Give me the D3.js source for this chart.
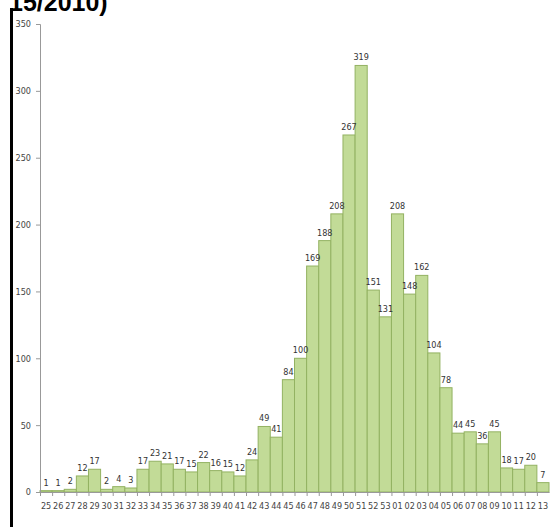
<!DOCTYPE html>
<html>
<head>
<meta charset="utf-8">
<script src="https://cdn.jsdelivr.net/npm/d3@7"></script>
<style>
  body { margin: 0; background: #fff; }
  svg { display: block; }
</style>
</head>
<body>
<div id="chart"></div>
<script>
// weeks 25/2009 .. 13/2010
var weeks = ["25","26","27","28","29","30","31","32","33","34","35","36","37","38","39","40","41","42","43","44",
             "45","46","47","48","49","50","51","52","53","01","02","03","04","05","06","07","08","09","10","11","12","13"];
var cases = [1,1,2,12,17,2,4,3,17,23,21,17,15,22,16,15,12,24,49,41,
             84,100,169,188,208,267,319,151,131,208,148,162,104,78,44,45,36,45,18,17,20,7];
var yTicks = [0,50,100,150,200,250,300,350];

var W = 552, H = 527;
var margin = {top: 24, right: 3, bottom: 35, left: 40},
    width = W - margin.left - margin.right,
    height = H - margin.top - margin.bottom;

var svg = d3.select("#chart")
  .append("svg")
    .attr("width", W)
    .attr("height", H);

// title fragment, cut off at the top like the source
svg.append("text")
  .attr("x", 9)
  .attr("y", 11)
  .attr("font-family", "Liberation Sans, Arial, sans-serif")
  .attr("font-weight", "bold")
  .attr("font-size", "25px")
  .attr("fill", "#000")
  .text("15/2010)");

// black rule on the left
svg.append("line")
  .attr("x1", 11.5).attr("x2", 11.5)
  .attr("y1", 8).attr("y2", H)
  .attr("stroke", "#000")
  .attr("stroke-width", 3);

var g = svg.append("g")
  .attr("transform", "translate(" + margin.left + "," + margin.top + ")");

var x = d3.scaleBand().domain(weeks).range([0, width]).padding(0);
var y = d3.scaleLinear().domain([0, 350]).range([height, 0]);

var font = "Liberation Sans Narrow, DejaVu Sans Condensed, sans-serif";

// bars
g.selectAll(".bar")
  .data(weeks)
  .enter()
  .append("rect")
    .attr("class", "bar")
    .attr("x", function(d) { return x(d); })
    .attr("y", function(d, i) { return y(cases[i]); })
    .attr("width", x.bandwidth())
    .attr("height", function(d, i) { return height - y(cases[i]); })
    .attr("fill", "#c2db97")
    .attr("stroke", "#93b262")
    .attr("stroke-width", 1);

// value labels
g.selectAll(".val")
  .data(weeks)
  .enter()
  .append("text")
    .attr("class", "val")
    .attr("x", function(d) { return x(d) + x.bandwidth() / 2; })
    .attr("y", function(d, i) { return y(cases[i]) - 5; })
    .attr("text-anchor", "middle")
    .attr("font-family", font)
    .attr("font-size", "9px")
    .attr("fill", "#333")
    .text(function(d, i) { return cases[i]; });

// y axis
var yAxis = d3.axisLeft(y).tickValues(yTicks).tickSize(4).tickPadding(5);
g.append("g")
  .call(yAxis)
  .call(function(s) {
    s.select(".domain").attr("stroke", "#999");
    s.selectAll(".tick line").attr("stroke", "#999");
    s.selectAll("text").attr("font-family", font).attr("font-size", "9px").attr("fill", "#444");
  });

// x axis
var xAxis = d3.axisBottom(x).tickSize(0).tickPadding(11);
var xg = g.append("g")
  .attr("transform", "translate(0," + height + ")")
  .call(xAxis)
  .call(function(s) {
    s.select(".domain").attr("stroke", "#999");
    s.selectAll("text").attr("font-family", font).attr("font-size", "9px").attr("fill", "#444");
  });

// tick marks between categories
xg.selectAll(".sep")
  .data(weeks)
  .enter()
  .append("line")
    .attr("class", "sep")
    .attr("x1", function(d) { return x(d) + 0.5; })
    .attr("x2", function(d) { return x(d) + 0.5; })
    .attr("y1", 0)
    .attr("y2", 4)
    .attr("stroke", "#999");
</script>
</body>
</html>
